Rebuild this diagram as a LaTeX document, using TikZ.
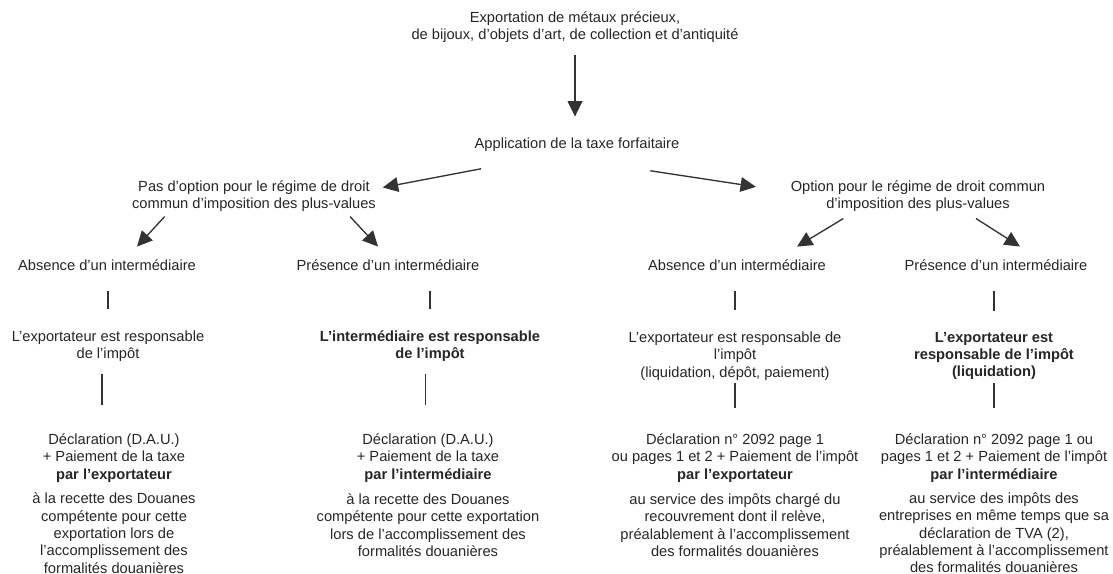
\documentclass[tikz,border=0pt]{standalone}
\usepackage{fontspec}
\setmainfont{Liberation Sans}
\usetikzlibrary{arrows.meta}

\tikzset{
  txt/.style={align=center, inner sep=2pt, text=black!85, font=\fontsize{11}{13}\selectfont},
  arr/.style={draw=black!80, line width=1pt, -{Triangle[length=11.5pt,width=11pt]}},
  bar/.style={draw=black!80, line width=0.9pt},
}

\begin{document}
\begin{tikzpicture}[x=0.75pt, y=-0.75pt]
\useasboundingbox (0,0) rectangle (1113,574);

\node[txt] (top) at (575, 27) {Exportation de métaux précieux,\\de bijoux, d’objets d’art, de collection et d’antiquité};
\node[txt] (app) at (577, 145) {Application de la taxe forfaitaire};
\node[txt] (pas) at (254, 196) {Pas d’option pour le régime de droit\\commun d’imposition des plus-values};
\node[txt] (opt) at (918, 196) {Option pour le régime de droit commun\\d’imposition des plus-values};

\node[txt] (abs1) at (107, 265) {Absence d’un intermédiaire};
\node[txt] (pre1) at (388, 265) {Présence d’un intermédiaire};
\node[txt] (abs2) at (737, 265) {Absence d’un intermédiaire};
\node[txt] (pre2) at (996, 265) {Présence d’un intermédiaire};

\node[txt] (resp1) at (108, 346) {L’exportateur est responsable\\de l’impôt};
\node[txt, font=\fontsize{11}{13}\selectfont\bfseries] (resp2) at (430, 346) {L’intermédiaire est responsable\\de l’impôt};
\node[txt] (resp3) at (735, 356) {L’exportateur est responsable de\\l’impôt\\(liquidation, dépôt, paiement)};
\node[txt, font=\fontsize{11}{13}\selectfont\bfseries] (resp4) at (994, 356) {L’exportateur est\\responsable de l’impôt\\(liquidation)};

\node[txt] (decl1) at (114, 458) {Déclaration (D.A.U.)\\+ Paiement de la taxe\\\textbf{par l’exportateur}};
\node[txt] (decl2) at (428, 458) {Déclaration (D.A.U.)\\+ Paiement de la taxe\\\textbf{par l’intermédiaire}};
\node[txt] (decl3) at (735, 458) {Déclaration n° 2092 page 1\\ou pages 1 et 2 + Paiement de l’impôt\\\textbf{par l’exportateur}};
\node[txt] (decl4) at (994, 458) {Déclaration n° 2092 page 1 ou\\pages 1 et 2 + Paiement de l’impôt\\\textbf{par l’intermédiaire}};

\node[txt] (lieu1) at (114, 533) {à la recette des Douanes\\compétente pour cette\\exportation lors de\\l’accomplissement des\\formalités douanières};
\node[txt] (lieu2) at (428, 525) {à la recette des Douanes\\compétente pour cette exportation\\lors de l’accomplissement des\\formalités douanières};
\node[txt] (lieu3) at (735, 525) {au service des impôts chargé du\\recouvrement dont il relève,\\préalablement à l'accomplissement\\des formalités douanières};
\node[txt] (lieu4) at (994, 533) {au service des impôts des\\entreprises en même temps que sa\\déclaration de TVA (2),\\préalablement à l'accomplissement\\des formalités douanières};

% arrows
\draw[arr, shorten <=7pt, shorten >=14pt] (top.south) -- (top.south |- app.north);
\draw[arr] ([xshift=7pt, yshift=-10.5pt]app.south west) -- ([xshift=3pt, yshift=-7.5pt]pas.north east);
\draw[arr] ([xshift=-24pt, yshift=-12pt]app.south east) -- ([xshift=-24pt, yshift=-7pt]opt.north west);
\draw[arr] ([xshift=-67pt, yshift=-1.5pt]pas.south) -- ([xshift=22.5pt, yshift=7.5pt]abs1.north);
\draw[arr] ([xshift=72pt, yshift=-1.5pt]pas.south) -- ([xshift=-7.5pt, yshift=7.5pt]pre1.north);
\draw[arr] ([xshift=-56pt, yshift=-3pt]opt.south) -- ([xshift=45pt, yshift=7.5pt]abs2.north);
\draw[arr] ([xshift=43.5pt, yshift=-3pt]opt.south) -- ([xshift=18pt, yshift=7.5pt]pre2.north);

% short ticks
\draw[bar, shorten <=13pt, shorten >=14pt] (abs1.south -| resp1.north) -- (resp1.north);
\draw[bar, shorten <=13pt, shorten >=14pt] (pre1.south -| resp2.north) -- (resp2.north);
\draw[bar, shorten <=13pt, shorten >=14pt] (abs2.south -| resp3.north) -- (resp3.north);
\draw[bar, shorten <=13pt, shorten >=14pt] (pre2.south -| resp4.north) -- (resp4.north);

% long bars
\draw[bar, shorten <=7pt, shorten >=19pt] ([xshift=-4.5pt]resp1.south) -- ([xshift=-4.5pt]resp1.south |- decl1.north);
\draw[bar, shorten <=7pt, shorten >=19pt] ([xshift=-3.5pt]resp2.south) -- ([xshift=-3.5pt]resp2.south |- decl2.north);
\draw[bar, shorten <=0pt, shorten >=17pt] (resp3.south) -- (resp3.south |- decl3.north);
\draw[bar, shorten <=0pt, shorten >=17pt] (resp4.south) -- (resp4.south |- decl4.north);

\end{tikzpicture}
\end{document}
